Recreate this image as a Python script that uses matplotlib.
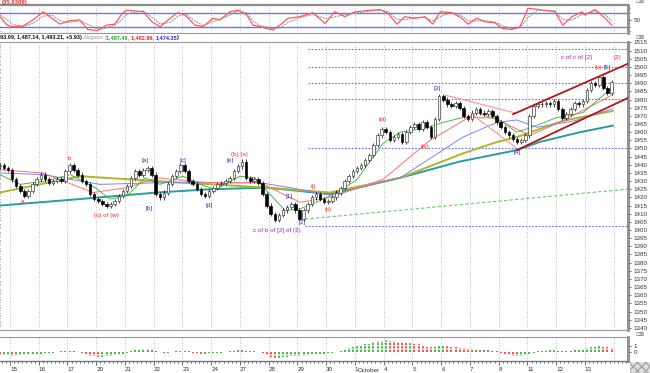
import matplotlib
matplotlib.use('Agg')
import matplotlib.pyplot as plt
from matplotlib.patches import Rectangle
from matplotlib.ticker import MultipleLocator, FixedLocator
import numpy as np

plt.rcParams['font.family'] = ['Liberation Sans', 'DejaVu Sans']

# trading days on the axis (7 hourly bars per day), first one only partly shown
day_labels = ['14', '15', '16', '17', '20', '21', '22', '23', '24', '27', '28',
              '29', '30', '1', '4', '5', '6', '7', '8', '11', '12', '13']

closes_by_day = [
    [1436, 1438, 1437, 1439, 1440, 1438, 1437],
    [1431, 1427, 1424, 1421, 1424, 1428, 1431],
    [1434, 1431, 1429, 1430, 1431, 1430, 1436],
    [1440, 1437, 1434, 1430, 1428, 1422, 1419],
    [1418, 1416, 1415, 1416, 1418, 1421, 1424],
    [1427, 1432, 1436, 1434, 1437, 1438, 1434],
    [1422, 1420, 1423, 1428, 1433, 1436, 1440],
    [1436, 1430, 1428, 1425, 1422, 1421, 1424],
    [1426, 1428, 1429, 1430, 1432, 1436, 1439],
    [1442, 1432, 1430, 1431, 1429, 1422, 1415],
    [1410, 1406, 1409, 1412, 1414, 1416, 1412],
    [1407, 1412, 1416, 1420, 1422, 1419, 1417],
    [1418, 1420, 1423, 1426, 1430, 1433, 1436],
    [1438, 1440, 1443, 1446, 1452, 1458, 1462],
    [1460, 1455, 1457, 1459, 1454, 1460, 1463],
    [1465, 1462, 1466, 1463, 1457, 1468, 1482],
    [1480, 1477, 1476, 1478, 1475, 1470, 1468],
    [1472, 1474, 1472, 1471, 1473, 1470, 1466],
    [1463, 1460, 1458, 1456, 1454, 1455, 1458],
    [1470, 1476, 1477, 1477, 1478, 1477, 1479],
    [1474, 1469, 1471, 1474, 1478, 1477, 1479],
    [1486, 1490, 1489, 1494, 1487, 1484, 1491],
]

hist_by_day = [
    [-0.2, -0.3, -0.4, -0.4, -0.5, -0.5, -0.5],
    [-0.6, -0.6, -0.5, -0.5, -0.4, -0.4, -0.3],
    [-0.3, -0.2, -0.1, -0.1, 0.0, 0.1, 0.2],
    [0.2, 0.1, 0.0, -0.2, -0.4, -0.6, -0.7],
    [-0.8, -0.8, -0.7, -0.6, -0.5, -0.4, -0.3],
    [-0.1, 0.1, 0.3, 0.4, 0.5, 0.5, 0.4],
    [0.2, 0.0, -0.1, -0.1, 0.0, 0.1, 0.2],
    [0.2, 0.1, -0.1, -0.2, -0.3, -0.3, -0.2],
    [-0.2, -0.1, -0.1, 0.0, 0.1, 0.2, 0.3],
    [0.3, 0.2, 0.1, 0.1, 0.0, -0.2, -0.5],
    [-0.8, -1.0, -1.0, -0.9, -0.8, -0.7, -0.7],
    [-0.7, -0.6, -0.5, -0.4, -0.3, -0.3, -0.3],
    [-0.2, -0.1, 0.0, 0.2, 0.4, 0.6, 0.8],
    [1.0, 1.1, 1.3, 1.4, 1.6, 1.8, 1.9],
    [2.0, 1.9, 1.8, 1.7, 1.6, 1.5, 1.5],
    [1.4, 1.3, 1.1, 0.9, 0.8, 0.9, 1.1],
    [1.1, 1.0, 0.9, 0.8, 0.7, 0.6, 0.5],
    [0.5, 0.4, 0.4, 0.3, 0.3, 0.2, 0.1],
    [-0.1, -0.3, -0.5, -0.6, -0.7, -0.6, -0.5],
    [-0.3, -0.1, 0.1, 0.2, 0.2, 0.3, 0.3],
    [0.2, 0.1, 0.1, 0.2, 0.3, 0.3, 0.4],
    [0.6, 0.8, 0.9, 1.0, 0.9, 0.8, 0.7],
]

# moving averages (x in trading-day units)
lips_x = [0.65, 1.35, 2.22, 3.09, 3.96, 4.48, 5.07, 5.70, 6.22, 7.02, 7.61, 8.13, 9.00, 9.52, 10.04,
          10.57, 11.09, 11.78, 12.48, 13.07, 13.97, 14.57, 15.50, 16.06, 16.76, 17.94, 18.63, 19.09,
          20.03, 20.93, 21.97]
lips_y = [1434, 1428, 1430, 1434, 1426, 1419, 1421, 1432, 1428, 1433, 1428, 1425, 1433, 1432, 1422,
          1412, 1413, 1418, 1424, 1431, 1453, 1460, 1462.6, 1466, 1469, 1468.7, 1460, 1462.6,
          1469, 1472, 1487.5]
teeth_x = [0.65, 2.15, 3.89, 5.07, 6.11, 7.96, 9.70, 11.09, 12.13, 13.97, 15.61, 17.24, 18.04,
           19.09, 20.24, 21.97]
teeth_y = [1437, 1435, 1423, 1426, 1432, 1429, 1429, 1417, 1420, 1431, 1455, 1472, 1467, 1458,
           1467, 1483]
jaw_x = [0.65, 2.15, 4.13, 6.11, 7.96, 9.70, 10.74, 12.13, 14.57, 16.76, 17.94, 18.63, 19.33,
         20.65, 21.97]
jaw_y = [1435, 1434, 1428, 1429, 1429, 1429, 1426, 1421.5, 1432, 1457, 1466, 1467.5, 1463, 1467,
         1474.4]
olive_x = [0.65, 3.43, 6.11, 9.94, 12.13, 14.57, 16.76, 17.94, 18.63, 20.24, 21.97]
olive_y = [1423, 1433, 1430, 1426, 1423, 1432, 1447, 1454, 1457, 1467, 1473]
teal_x = [0.65, 3.43, 6.11, 7.96, 9.94, 12.13, 14.57, 16.65, 18.63, 19.43, 20.83, 21.97]
teal_y = [1415, 1419, 1423, 1425, 1426, 1422, 1432, 1442, 1449, 1454, 1460, 1464]

# stochastic (top pane)
stoch_x = [0.65, 0.90, 1.10, 1.45, 1.80, 2.15, 2.46, 2.74, 3.09, 3.43, 3.71, 4.03, 4.37, 4.65,
           4.90, 5.07, 5.63, 5.94, 6.22, 6.57, 6.84, 7.09, 7.43, 7.71, 8.06, 8.30, 8.65, 8.93,
           9.24, 9.45, 9.70, 10.15, 10.39, 10.67, 11.09, 11.54, 11.96, 12.30, 12.65, 13.00,
           13.45, 13.87, 14.15, 14.46, 14.74, 15.09, 15.43, 15.71, 15.96, 16.37, 16.72, 16.93,
           17.24, 17.52, 17.87, 18.11, 18.46, 18.74, 19.02, 19.37, 19.96, 20.23, 20.55, 20.90,
           21.00, 21.35, 21.70, 21.94]
stoch_k = [63, 27, 20, 23, 49, 84, 56, 31, 46, 49, 8, 3, 27, 31, 77, 91, 84, 41, 20, 56, 80, 70,
           27, 20, 56, 49, 84, 91, 70, 27, 20, 6, 27, 56, 63, 80, 34, 84, 63, 84, 89, 94, 77, 31,
           63, 56, 63, 31, 84, 80, 56, 31, 56, 41, 37, 13, 8, 20, 99, 94, 84, 27, 63, 84, 70, 94,
           56, 27]
stoch_d = [70, 50, 30, 20, 35, 65, 70, 45, 38, 46, 30, 10, 15, 28, 50, 75, 88, 60, 32, 38, 65, 75,
           45, 25, 40, 52, 70, 88, 80, 45, 25, 12, 15, 38, 60, 72, 55, 62, 72, 78, 86, 90, 85, 52,
           50, 58, 60, 45, 62, 82, 66, 45, 45, 46, 40, 25, 12, 14, 60, 92, 88, 50, 48, 72, 76, 85,
           72, 45]

# drawn lines: (x0, y0, x1, y1)
channel_up = (18.50, 1471, 22.5, 1502)
channel_dn = (18.63, 1449, 22.5, 1481)
wave4_a = (16.13, 1482.8, 18.57, 1471.8)
wave4_b = (17.10, 1470.6, 18.57, 1450.9)
trend_green = (11.26, 1406.7, 22.5, 1425.1)
levels = [1511, 1500, 1490, 1480.5, 1450]
low_level = 1402.5

labels = [
    ('a', 1.45, 1417.8, '#ff2020'), ('b', 3.05, 1443.6, '#ff2020'),
    ('(c) of (w)', 4.37, 1409.2, '#ff2020'), ('[a]', 5.70, 1442.5, '#3030c0'),
    ('[b]', 5.83, 1412.9, '#3030c0'), ('[c]', 7.02, 1442.5, '#3030c0'),
    ('[d]', 7.92, 1415.3, '#3030c0'), ('[e]', 8.65, 1442.5, '#3030c0'),
    ('(b) (x)', 8.97, 1446.5, '#ff2020'), ('(i)', 11.57, 1426.4, '#ff2020'),
    ('[1]', 10.70, 1420.5, '#3030c0'), ('[2]', 11.16, 1404.5, '#3030c0'),
    ('(ii)', 12.06, 1412.3, '#ff2020'), ('c of b of [2] of (2)', 10.29, 1400, '#a020c0'),
    ('(iii)', 13.97, 1467.5, '#ff2020'), ('[3]', 15.85, 1486.5, '#3030c0'),
    ('(iv)', 15.43, 1451.5, '#ff2020'), ('[4]', 18.63, 1447.5, '#3030c0'),
    ('c of c of [2]', 20.72, 1505.5, '#a020c0'), ('(2)', 22.15, 1505.5, '#ff2020'),
    ('(v)', 21.45, 1499.6, '#ff2020'), ('[5]', 21.78, 1499.6, '#3030c0'),
]

W, H = 650, 373
fig = plt.figure(figsize=(6.5, 3.73), dpi=100)


def axes_px(x0, y0, x1, y1):
    return fig.add_axes([x0 / W, 1 - y1 / H, (x1 - x0) / W, (y1 - y0) / H])


ax_st = axes_px(0, 5, 628, 33)
ax = axes_px(0, 42, 628, 330)
ax_h = axes_px(0, 337, 628, 361)

x_lim = (0.652, 22.5)
grid_kw = dict(color='#aaaaaa', lw=0.6, linestyle=(0, (1, 2)))
for a in (ax_st, ax, ax_h):
    a.set_xlim(*x_lim)
    for d in range(1, len(day_labels) + 1):
        a.axvline(d, zorder=0, **grid_kw)
    a.spines['left'].set_visible(False)
    a.spines['right'].set_color('#8c8c8c')
    a.spines['right'].set_linewidth(2)
    a.tick_params(left=False, labelleft=False, right=True, labelright=True,
                  bottom=False, labelbottom=False, labelsize=4.5, length=2,
                  width=0.5, pad=2, colors='#333333')

# ---- bars
closes = np.array(closes_by_day, dtype=float).ravel()
bars_per_day = len(closes_by_day[0])
xs = np.array([k + (j + 0.5) / bars_per_day
               for k in range(len(closes_by_day)) for j in range(bars_per_day)])
opens = np.r_[closes[0], closes[:-1]]
top = np.maximum(opens, closes)
bot = np.minimum(opens, closes)
up = closes >= opens

ax.vlines(xs, bot - 1.3, top + 1.3, color='black', lw=0.5, zorder=3)
ax.bar(xs[up], np.maximum(top - bot, 0.5)[up], bottom=bot[up], width=0.09,
       color='#f4f4f4', edgecolor='#333333', linewidth=0.45, zorder=4)
ax.bar(xs[~up], np.maximum(top - bot, 0.5)[~up], bottom=bot[~up], width=0.09,
       color='black', edgecolor='black', linewidth=0.45, zorder=4)

# moving averages
ax.plot(teal_x, teal_y, color='#2a9d9d', lw=1.4, zorder=2)
ax.plot(olive_x, olive_y, color='#b4b428', lw=1.4, zorder=2)
ax.plot(jaw_x, jaw_y, color='#8080ff', lw=0.7, zorder=2)
ax.plot(teeth_x, teeth_y, color='#ff7070', lw=0.7, zorder=2)
ax.plot(lips_x, lips_y, color='#33b033', lw=0.6, zorder=2)

# level lines / drawings
for lv in levels:
    ax.hlines(lv, 11.37, x_lim[1], color='#6a6aff', lw=0.8, linestyle=(0, (1.5, 1.5)), zorder=1)
ax.hlines(low_level, 11.26, x_lim[1], color='#6a6aff', lw=0.8, linestyle=(0, (1.5, 1.5)), zorder=1)
x0, y0, x1, y1 = trend_green
ax.plot([x0, x1], [y0, y1], color='#66cc66', lw=0.8, linestyle=(0, (3, 2)), zorder=1)
for seg in (wave4_a, wave4_b):
    ax.plot([seg[0], seg[2]], [seg[1], seg[3]], color='#ff9090', lw=0.8, zorder=2)
for seg in (channel_up, channel_dn):
    ax.plot([seg[0], seg[2]], [seg[1], seg[3]], color='#b01818', lw=1.3, zorder=5)

for txt, lx, ly, col in labels:
    ax.text(lx, ly, txt, color=col, fontsize=4.5, ha='center', va='center', zorder=6)

ax.set_ylim(1338.7, 1515.3)
ax.yaxis.set_major_locator(MultipleLocator(5))
ax.yaxis.set_minor_locator(MultipleLocator(1))
ax.tick_params(axis='y', which='minor', right=True, length=1, width=0.4)
for s in ('top', 'bottom'):
    ax.spines[s].set_color('#999999')
    ax.spines[s].set_linestyle((0, (1, 1)))
    ax.spines[s].set_linewidth(0.8)

# ---- stochastic pane
ax_st.axhline(80, color='#7070ff', lw=1.0, zorder=1)
ax_st.axhline(20, color='#7070ff', lw=1.0, zorder=1)
ax_st.plot(stoch_x, stoch_d, color='#8a8a8a', lw=0.7, linestyle=(0, (2, 1)), zorder=2)
ax_st.plot(stoch_x, stoch_k, color='#ff5a5a', lw=0.9, zorder=3)
ax_st.set_ylim(-7, 113)
ax_st.yaxis.set_major_locator(FixedLocator([50]))
ax_st.yaxis.set_minor_locator(FixedLocator([0, 20, 80, 100]))
ax_st.tick_params(axis='y', which='minor', right=True, length=1.5, width=0.4)
ax_st.spines['top'].set_color('#8c8c8c')
ax_st.spines['top'].set_linewidth(1.6)
ax_st.spines['bottom'].set_color('#999999')
ax_st.spines['bottom'].set_linestyle((0, (1, 1)))

# ---- histogram pane
hist = np.array(hist_by_day, dtype=float).ravel()
rising = np.r_[True, np.diff(hist) >= 0]
ax_h.vlines(xs[rising], 0, hist[rising], color='#44bb44', lw=1.4,
            linestyle=(0, (1.2, 0.6)), zorder=2)
ax_h.vlines(xs[~rising], 0, hist[~rising], color='#ff5050', lw=1.4,
            linestyle=(0, (1.2, 0.6)), zorder=2)
ax_h.set_ylim(-1.5, 2.5)
ax_h.yaxis.set_major_locator(FixedLocator([0, 1]))
ax_h.spines['top'].set_color('#999999')
ax_h.spines['top'].set_linestyle((0, (1, 1)))
ax_h.spines['bottom'].set_color('#777777')
ax_h.spines['bottom'].set_linewidth(1.0)
ax_h.xaxis.set_major_locator(FixedLocator(range(1, len(day_labels))))
ax_h.xaxis.set_minor_locator(MultipleLocator(1 / bars_per_day))
ax_h.set_xticklabels(day_labels[1:])
ax_h.tick_params(axis='x', bottom=True, labelbottom=True, length=3, width=0.5,
                 labelsize=4.5, pad=1, direction='out')
ax_h.tick_params(axis='x', which='minor', bottom=True, length=1.5, width=0.4)
for t in ax_h.get_xticklabels():
    t.set_horizontalalignment('left')

fig.text(358 / W, 1 - 370 / H, 'October', fontsize=4.5, color='#333333', ha='left', va='center')

# ---- header texts
fig.text(2 / W, 1 - 2.5 / H, '(35.9309)', fontsize=4.2, color='#ff2020', fontweight='bold',
         ha='left', va='center')
renderer = fig.canvas.get_renderer()
hx = 0.0
for s, c, w, st in [('93.09, 1,487.14, 1,493.21, +5.93)', '#111111', 'bold', 'normal'),
                    (' Alligator (', '#999999', 'normal', 'italic'),
                    ('1,487.48, ', '#22aa22', 'bold', 'normal'),
                    ('1,482.96, ', '#ee2222', 'bold', 'normal'),
                    ('1,474.35', '#2222ee', 'bold', 'normal'),
                    (')', '#111111', 'bold', 'normal')]:
    t = fig.text(hx, 1 - 38 / H, s, fontsize=4, color=c, fontweight=w, fontstyle=st,
                 ha='left', va='center')
    hx += t.get_window_extent(renderer=renderer).width / W

for yy in (1.5, 37.5, 334):
    fig.text(636 / W, 1 - yy / H, '\u22a1\u22a0', fontsize=4, color='#777777',
             family='DejaVu Sans', ha='left', va='center')

fig.patches.append(Rectangle((630 / W, 0), 20 / W, 11 / H, transform=fig.transFigure,
                             facecolor='#e0e0e0', edgecolor='#a8a8a8', hatch='xxxx', lw=0))

fig.savefig('out.png', dpi=100)
